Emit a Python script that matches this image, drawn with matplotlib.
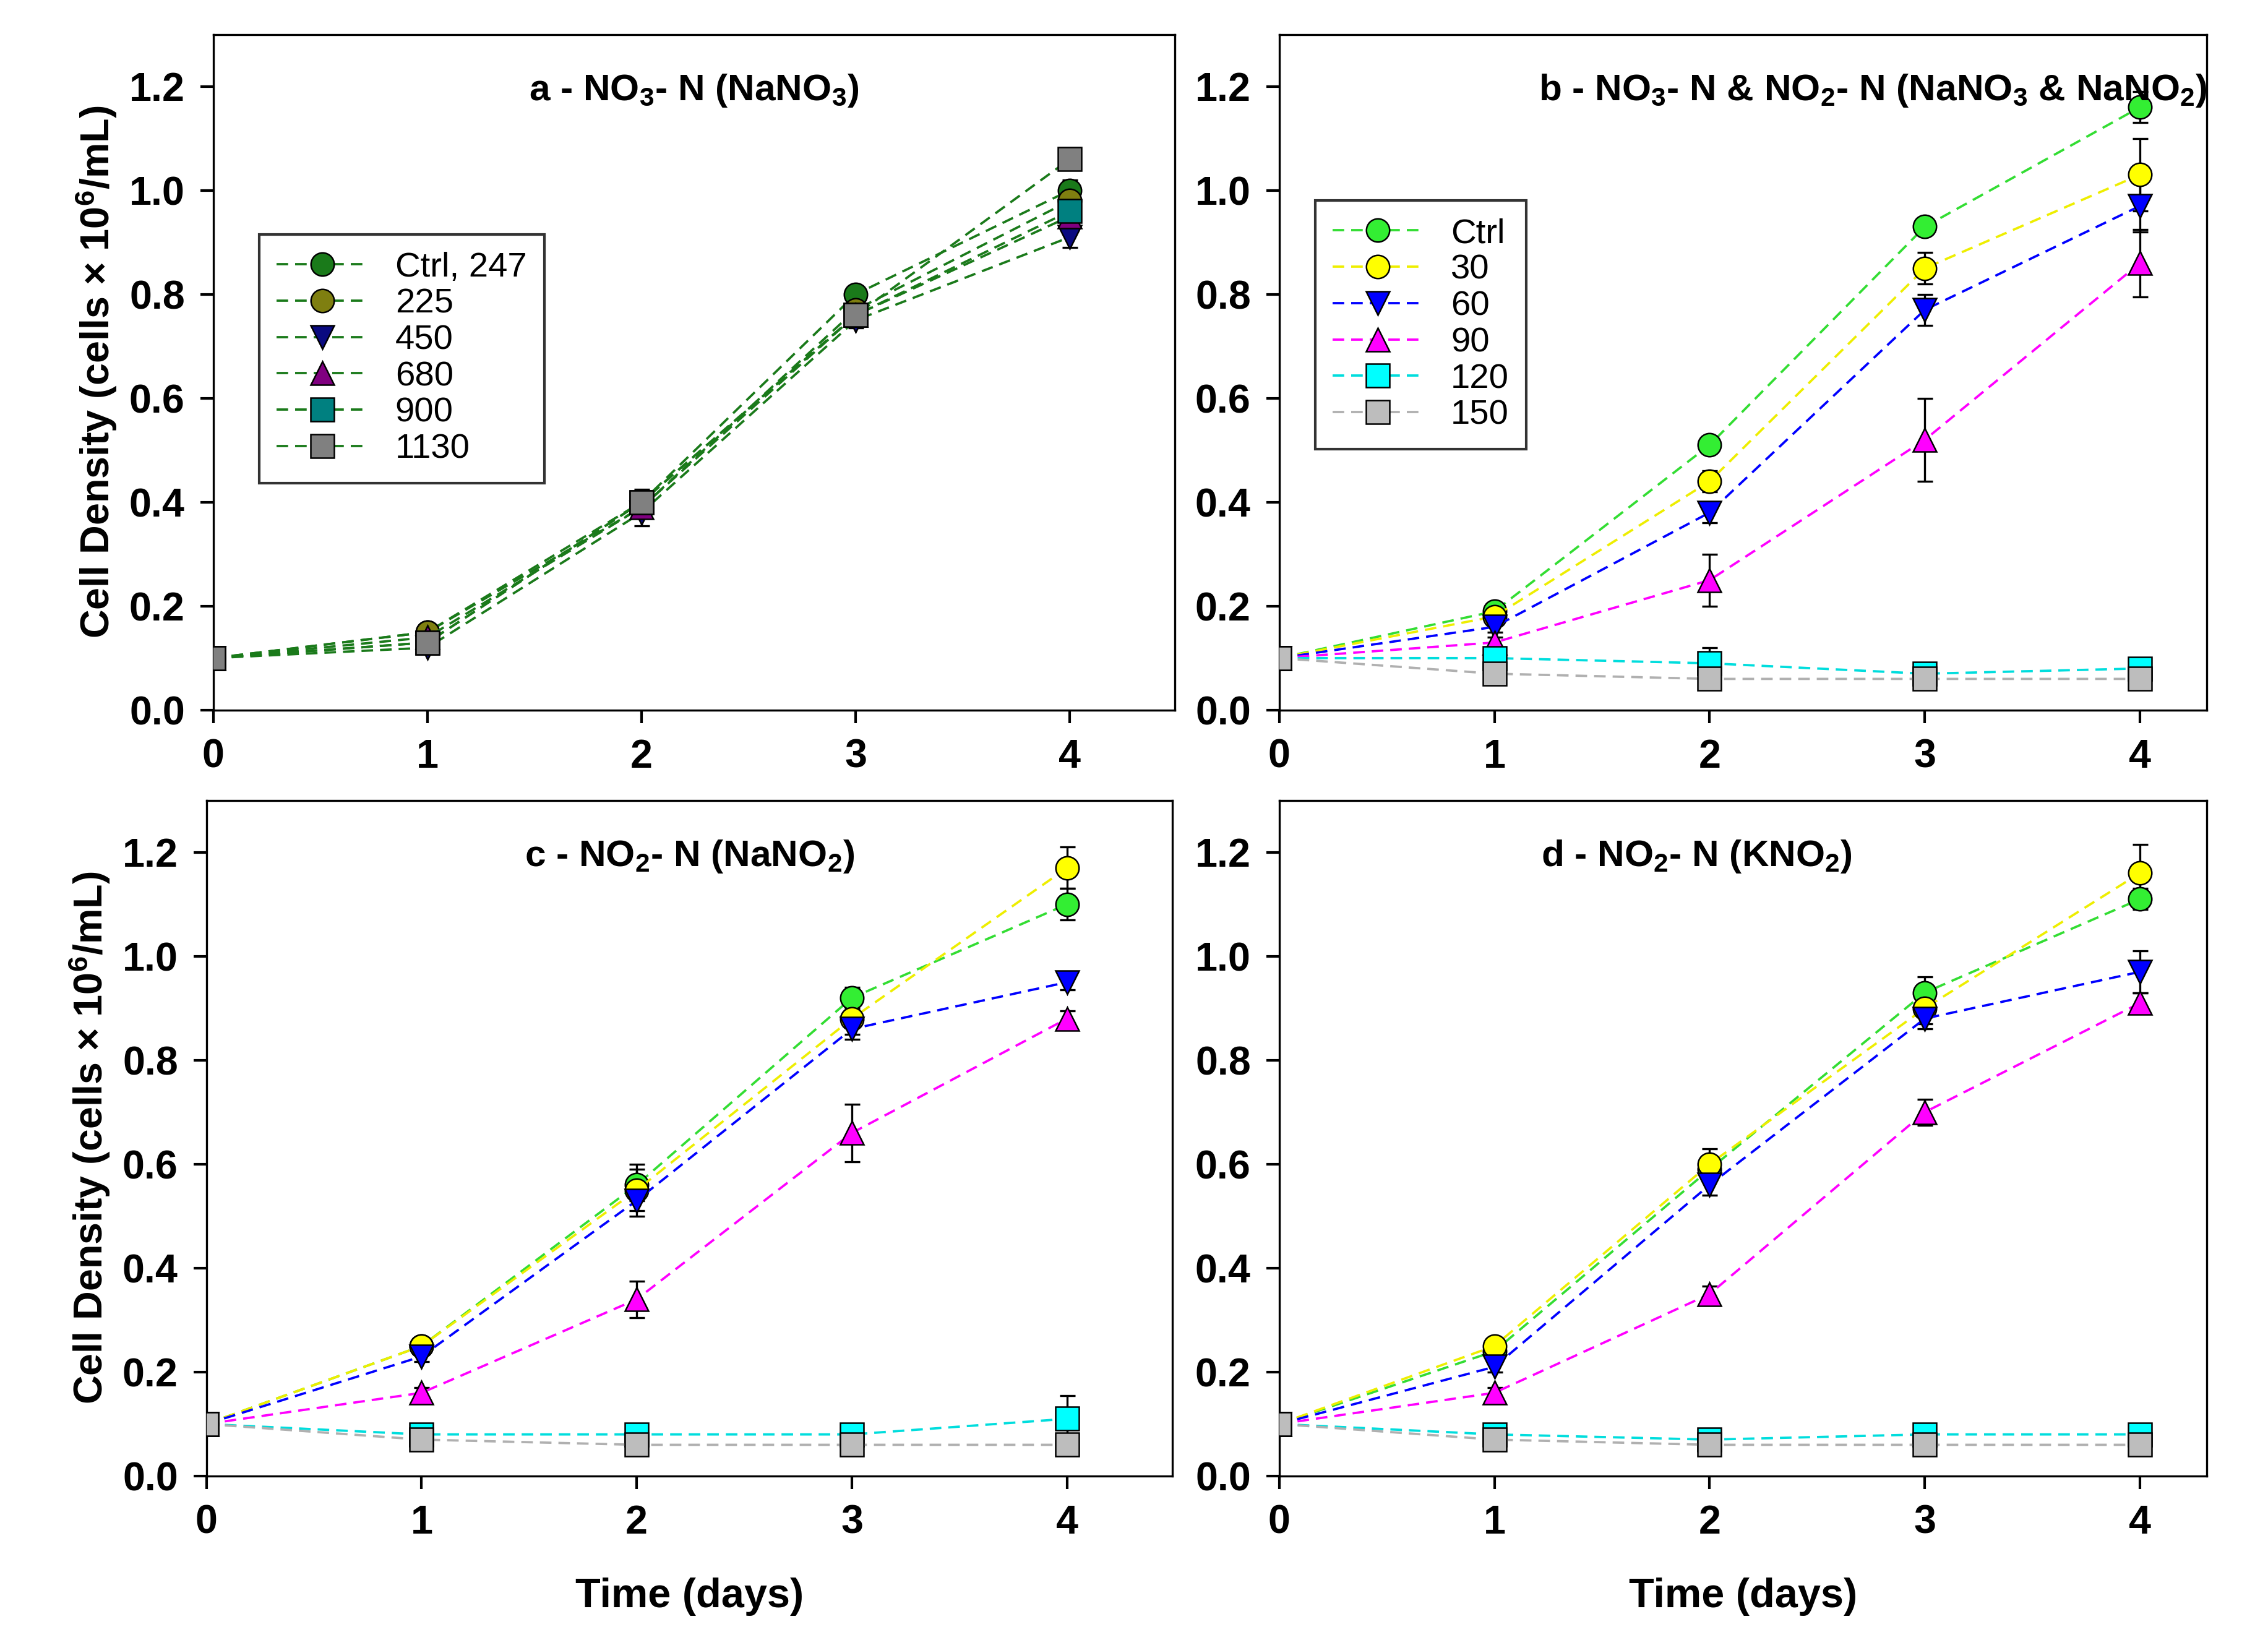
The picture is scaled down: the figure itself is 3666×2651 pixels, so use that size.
import matplotlib
matplotlib.use("Agg")
import matplotlib.pyplot as plt

plt.rcParams['font.family'] = ['Liberation Sans', 'DejaVu Sans']
plt.rcParams['mathtext.fontset'] = 'custom'
plt.rcParams['mathtext.rm'] = 'Liberation Sans:bold'
plt.rcParams['mathtext.default'] = 'rm'

days = [0, 1, 2, 3, 4]

# panel a (NaNO3)
a_labels = ["Ctrl, 247", "225", "450", "680", "900", "1130"]
a_vals = [
    [0.10, 0.15, 0.40, 0.80, 1.00],
    [0.10, 0.15, 0.39, 0.77, 0.98],
    [0.10, 0.12, 0.38, 0.75, 0.91],
    [0.10, 0.14, 0.39, 0.76, 0.95],
    [0.10, 0.13, 0.40, 0.76, 0.96],
    [0.10, 0.13, 0.40, 0.76, 1.06],
]
a_err = [
    [0, 0.01, 0.02, 0.015, 0.02],
    [0, 0.01, 0.02, 0.015, 0.02],
    [0, 0.01, 0.025, 0.015, 0.02],
    [0, 0.01, 0.02, 0.015, 0.02],
    [0, 0.01, 0.02, 0.015, 0.02],
    [0, 0.01, 0.025, 0.015, 0.015],
]

bcd_labels = ["Ctrl", "30", "60", "90", "120", "150"]
b_vals = [
    [0.10, 0.19, 0.51, 0.93, 1.16],
    [0.10, 0.18, 0.44, 0.85, 1.03],
    [0.10, 0.16, 0.38, 0.77, 0.97],
    [0.10, 0.13, 0.25, 0.52, 0.86],
    [0.10, 0.10, 0.09, 0.07, 0.08],
    [0.10, 0.07, 0.06, 0.06, 0.06],
]
b_err = [
    [0, 0.01, 0.01, 0.01, 0.03],
    [0, 0.01, 0.02, 0.03, 0.07],
    [0, 0.01, 0.02, 0.03, 0.05],
    [0, 0.01, 0.05, 0.08, 0.065],
    [0, 0.01, 0.03, 0.01, 0.02],
    [0, 0.01, 0.01, 0.01, 0.01],
]
c_vals = [
    [0.10, 0.25, 0.56, 0.92, 1.10],
    [0.10, 0.25, 0.55, 0.88, 1.17],
    [0.10, 0.23, 0.53, 0.86, 0.95],
    [0.10, 0.16, 0.34, 0.66, 0.88],
    [0.10, 0.08, 0.08, 0.08, 0.11],
    [0.10, 0.07, 0.06, 0.06, 0.06],
]
c_err = [
    [0, 0.01, 0.03, 0.02, 0.03],
    [0, 0.01, 0.05, 0.03, 0.04],
    [0, 0.01, 0.02, 0.02, 0.015],
    [0, 0.01, 0.035, 0.055, 0.015],
    [0, 0.01, 0.01, 0.01, 0.045],
    [0, 0.01, 0.01, 0.01, 0.01],
]
d_vals = [
    [0.10, 0.24, 0.59, 0.93, 1.11],
    [0.10, 0.25, 0.60, 0.90, 1.16],
    [0.10, 0.21, 0.56, 0.88, 0.97],
    [0.10, 0.16, 0.35, 0.70, 0.91],
    [0.10, 0.08, 0.07, 0.08, 0.08],
    [0.10, 0.07, 0.06, 0.06, 0.06],
]
d_err = [
    [0, 0.01, 0.02, 0.03, 0.02],
    [0, 0.01, 0.03, 0.03, 0.055],
    [0, 0.01, 0.02, 0.02, 0.04],
    [0, 0.01, 0.015, 0.025, 0.02],
    [0, 0.01, 0.01, 0.01, 0.01],
    [0, 0.01, 0.01, 0.01, 0.01],
]

a_markers = ['o', 'o', 'v', '^', 's', 's']
a_faces = ['#1a7a1a', '#7f7f10', '#0a0a80', '#800080', '#008080', '#808080']
bcd_markers = ['o', 'o', 'v', '^', 's', 's']
bcd_faces = ['#33ee33', '#ffff00', '#0000ff', '#ff00ff', '#00ffff', '#bdbdbd']
bcd_lines = ['#33dd33', '#eeee00', '#0000ff', '#ff00ff', '#00dddd', '#b0b0b0']

fig = plt.figure(figsize=(12.22, 8.837), dpi=300)
rects = [
    [0.094, 0.567, 0.424, 0.412],
    [0.564, 0.567, 0.409, 0.412],
    [0.091, 0.100, 0.426, 0.412],
    [0.564, 0.100, 0.409, 0.412],
]
xmax = [4.49, 4.31, 4.49, 4.31]
titles = [
    "a - NO$_3$- N (NaNO$_3$)",
    "b - NO$_3$- N & NO$_2$- N (NaNO$_3$ & NaNO$_2$)",
    "c - NO$_2$- N (NaNO$_2$)",
    "d - NO$_2$- N (KNO$_2$)",
]
title_x = [0.5, 0.64, 0.5, 0.45]

panels = [
    (a_labels, a_vals, a_err, a_markers, a_faces, ['#1a7a1a'] * 6),
    (bcd_labels, b_vals, b_err, bcd_markers, bcd_faces, bcd_lines),
    (bcd_labels, c_vals, c_err, bcd_markers, bcd_faces, bcd_lines),
    (bcd_labels, d_vals, d_err, bcd_markers, bcd_faces, bcd_lines),
]

for i, (labels, vals, errs, markers, faces, lcols) in enumerate(panels):
    ax = fig.add_axes(rects[i])
    for lab, v, e, m, fc, lc in zip(labels, vals, errs, markers, faces, lcols):
        ax.errorbar(days, v, yerr=e, fmt='none', ecolor='black', elinewidth=0.8,
                    capsize=3, capthick=0.8, zorder=2)
        ax.plot(days, v, linestyle='--', dashes=(5, 3), color=lc, lw=0.9,
                marker=m, markersize=9, markerfacecolor=fc, markeredgecolor='black',
                markeredgewidth=0.6, label=lab, zorder=3)
    ax.set_xlim(0, xmax[i])
    ax.set_ylim(0, 1.3)
    ax.set_xticks(days)
    ax.set_yticks([0, 0.2, 0.4, 0.6, 0.8, 1.0, 1.2])
    ax.set_yticklabels(["0.0", "0.2", "0.4", "0.6", "0.8", "1.0", "1.2"])
    ax.tick_params(direction='out', length=5, width=1, labelsize=15.5, pad=6)
    for t in ax.get_xticklabels() + ax.get_yticklabels():
        t.set_fontweight('bold')
    ax.set_title(titles[i], x=title_x[i], y=0.88, fontsize=14.5, fontweight='bold')
    if i in (0, 2):
        ax.set_ylabel("Cell Density (cells × 10$^6$/mL)", fontsize=15.5,
                      fontweight='bold', labelpad=4)
    if i in (2, 3):
        ax.set_xlabel("Time (days)", fontsize=16, fontweight='bold', labelpad=14)
    if i == 0:
        ax.legend(loc='upper left', bbox_to_anchor=(0.03, 0.73), fontsize=13.5,
                  frameon=True, fancybox=False, edgecolor='black',
                  handlelength=2.6, labelspacing=0.12, borderpad=0.5)
    if i == 1:
        ax.legend(loc='upper left', bbox_to_anchor=(0.02, 0.78), fontsize=13.5,
                  frameon=True, fancybox=False, edgecolor='black',
                  handlelength=2.6, labelspacing=0.12, borderpad=0.5)

fig.savefig("out.png", dpi=300)
